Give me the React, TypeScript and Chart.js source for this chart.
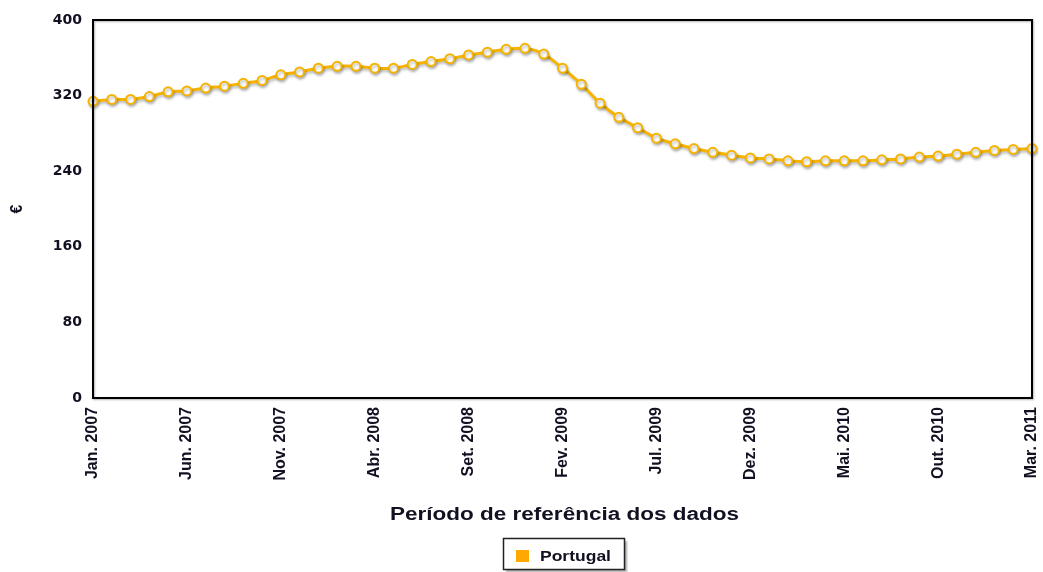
import React, { useEffect, useRef } from "react";
import { Chart, registerables } from "chart.js";

Chart.register(...registerables);

const months: string[] = [
  "Jan. 2007", "Fev. 2007", "Mar. 2007", "Abr. 2007", "Mai. 2007", "Jun. 2007",
  "Jul. 2007", "Ago. 2007", "Set. 2007", "Out. 2007", "Nov. 2007", "Dez. 2007",
  "Jan. 2008", "Fev. 2008", "Mar. 2008", "Abr. 2008", "Mai. 2008", "Jun. 2008",
  "Jul. 2008", "Ago. 2008", "Set. 2008", "Out. 2008", "Nov. 2008", "Dez. 2008",
  "Jan. 2009", "Fev. 2009", "Mar. 2009", "Abr. 2009", "Mai. 2009", "Jun. 2009",
  "Jul. 2009", "Ago. 2009", "Set. 2009", "Out. 2009", "Nov. 2009", "Dez. 2009",
  "Jan. 2010", "Fev. 2010", "Mar. 2010", "Abr. 2010", "Mai. 2010", "Jun. 2010",
  "Jul. 2010", "Ago. 2010", "Set. 2010", "Out. 2010", "Nov. 2010", "Dez. 2010",
  "Jan. 2011", "Fev. 2011", "Mar. 2011",
];

const portugal: number[] = [
  314, 316, 316, 319, 324, 325, 328, 330, 333, 336, 342, 345,
  349, 351, 351, 349, 349, 353, 356, 359, 363, 366, 369, 370,
  364, 349, 332, 312, 297, 286, 275, 269, 264, 260, 257, 254,
  253, 251, 250, 251, 251, 251, 252, 253, 255, 256, 258, 260,
  262, 263, 264,
];

const yTicks: number[] = [0, 80, 160, 240, 320, 400];
const seriesName = "Portugal";
const yTitle = "€";
const xTitle = "Período de referência dos dados";
const labelEvery = 5;

const LINE = "#F6B400";
const TEXT = "#111122";
const FONT = "'Liberation Sans', Arial, sans-serif";
const STRETCH = 1.25;

function stretchedText(ctx: CanvasRenderingContext2D, text: string, cx: number, y: number, align: "center" | "left") {
  ctx.save();
  ctx.translate(cx, y);
  ctx.scale(STRETCH, 1);
  ctx.textAlign = align;
  ctx.fillText(text, 0, 0);
  ctx.restore();
}

export default function App() {
  const ref = useRef<HTMLCanvasElement | null>(null);

  useEffect(() => {
    if (!ref.current) return;

    const framePlugin = {
      id: "frame",
      beforeDatasetsDraw(chart: any) {
        const ctx = chart.ctx;
        ctx.save();
        ctx.shadowColor = "rgba(0,0,0,0.28)";
        ctx.shadowBlur = 3;
        ctx.shadowOffsetX = 1;
        ctx.shadowOffsetY = 2;
      },
      afterDatasetsDraw(chart: any) {
        chart.ctx.restore();
      },
      afterDraw(chart: any) {
        const ctx = chart.ctx as CanvasRenderingContext2D;
        const a = chart.chartArea;
        ctx.save();
        ctx.strokeStyle = "#000";
        ctx.lineWidth = 2;
        ctx.shadowColor = "rgba(0,0,0,0.3)";
        ctx.shadowBlur = 2;
        ctx.shadowOffsetX = 1;
        ctx.shadowOffsetY = 1;
        ctx.strokeRect(a.left, a.top, a.right - a.left, a.bottom - a.top);
        ctx.restore();

        // axis titles
        ctx.save();
        ctx.fillStyle = TEXT;
        ctx.font = `bold 18px ${FONT}`;
        ctx.textBaseline = "alphabetic";
        stretchedText(ctx, xTitle, (a.left + a.right) / 2 + 2, 520, "center");
        ctx.restore();

        ctx.save();
        ctx.fillStyle = TEXT;
        ctx.font = `bold 16px ${FONT}`;
        ctx.translate(18, (a.top + a.bottom) / 2);
        ctx.rotate(-Math.PI / 2);
        ctx.textAlign = "center";
        ctx.textBaseline = "middle";
        ctx.fillText(yTitle, 0, 0);
        ctx.restore();

        // legend box
        const bx = 503.5, by = 538.5, bw = 121, bh = 31;
        ctx.save();
        ctx.fillStyle = "#fff";
        ctx.shadowColor = "rgba(0,0,0,0.35)";
        ctx.shadowBlur = 2;
        ctx.shadowOffsetX = 2;
        ctx.shadowOffsetY = 2;
        ctx.fillRect(bx, by, bw, bh);
        ctx.restore();
        ctx.save();
        ctx.strokeStyle = "#222";
        ctx.lineWidth = 1.5;
        ctx.strokeRect(bx, by, bw, bh);
        ctx.fillStyle = "#FFA800";
        ctx.fillRect(516, 550, 13, 12);
        ctx.fillStyle = TEXT;
        ctx.font = `bold 14px ${FONT}`;
        ctx.textBaseline = "alphabetic";
        stretchedText(ctx, seriesName, 540, 561, "left");
        ctx.restore();
      },
    };

    const chart = new Chart(ref.current, {
      type: "line",
      data: {
        labels: months,
        datasets: [
          {
            label: seriesName,
            data: portugal,
            borderColor: LINE,
            backgroundColor: LINE,
            borderWidth: 3,
            tension: 0.25,
            pointRadius: 4.5,
            pointBorderWidth: 2,
            pointBackgroundColor: "#ffffff",
            pointBorderColor: LINE,
            fill: false,
          },
        ],
      },
      options: {
        responsive: false,
        animation: false,
        layout: { padding: { top: 20, left: 0, right: 11, bottom: 0 } },
        plugins: {
          legend: { display: false },
          tooltip: { enabled: false },
        },
        scales: {
          x: {
            type: "category",
            offset: false,
            grid: { display: false, drawTicks: false },
            border: { display: false },
            ticks: {
              autoSkip: false,
              maxRotation: 90,
              minRotation: 90,
              padding: 9,
              color: TEXT,
              font: { family: FONT, size: 16, weight: "bold" },
              callback: (_v: any, i: number) => (i % labelEvery === 0 ? months[i] : ""),
            },
            afterFit: (s: any) => {
              s.height = 174;
              s.paddingRight = 0;
              s.paddingLeft = 0;
            },
          },
          y: {
            min: 0,
            max: 400,
            grid: { display: false, drawTicks: false },
            border: { display: false },
            afterBuildTicks: (s: any) => {
              s.ticks = yTicks.map((v) => ({ value: v }));
            },
            ticks: {
              padding: 11,
              color: TEXT,
              font: { family: "'DejaVu Sans', sans-serif", size: 14, weight: "bold" },
            },
            afterFit: (s: any) => {
              s.width = 93;
            },
          },
        },
      },
      plugins: [framePlugin],
    });

    return () => chart.destroy();
  }, []);

  return (
    <div style={{ position: "absolute", left: 0, top: 0, width: 1043, height: 572, background: "#fff" }}>
      <canvas ref={ref} width={1043} height={572} style={{ display: "block" }} />
    </div>
  );
}
